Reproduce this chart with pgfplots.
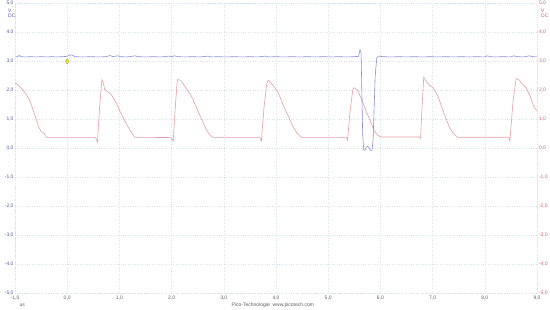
\documentclass[border=0pt]{standalone}
\usepackage{fontspec}
\setmainfont{Liberation Sans}
\usepackage{pgfplots}
\pgfplotsset{compat=1.18}
\definecolor{bluetr}{RGB}{140,140,215}
\definecolor{redtr}{RGB}{224,160,166}
\definecolor{lefttxt}{RGB}{85,85,155}
\definecolor{righttxt}{RGB}{205,95,105}
\definecolor{gridc}{RGB}{218,227,234}
\definecolor{ticktxt}{RGB}{95,95,95}
\definecolor{markfill}{RGB}{235,235,60}
\definecolor{markdraw}{RGB}{170,170,50}
\begin{document}
\begin{tikzpicture}
\pgfplotsset{
  common/.style={
    scale only axis, width=522pt, height=290pt,
    xmin=-1, xmax=9, ymin=-5, ymax=5,
    /pgf/number format/.cd, fixed, fixed zerofill, precision=1, use comma, assume math mode=true,
    /pgfplots/.cd,
    tick style={draw=none},
    ticklabel style={font=\fontsize{5}{6}\selectfont},
  }
}
\begin{axis}[common,
  axis line style={draw=gridc, dotted, line width=0.45pt},
  grid=major, major grid style={draw=gridc, dotted, line width=0.45pt},
  xtick={-1,0,...,9}, ytick={-5,-4,...,5},
  xticklabel style={text=ticktxt, yshift=0.5pt},
  yticklabel style={text=lefttxt, xshift=2pt},
  clip=false,
]
\addplot[redtr, line width=0.6pt] coordinates {
(-1.00,2.26) (-0.92,2.15) (-0.84,2.00) (-0.77,1.82) (-0.71,1.62) (-0.62,1.15) (-0.55,0.75) (-0.50,0.58) (-0.45,0.53) (-0.41,0.42) (-0.38,0.37)
(0.54,0.37) (0.58,0.22) (0.62,1.40) (0.665,2.37) (0.69,2.25) (0.72,2.03) (0.78,1.95) (0.85,1.84) (0.95,1.52) (1.05,1.13) (1.17,0.72) (1.24,0.52) (1.30,0.38)
(1.99,0.37) (2.03,0.24) (2.07,1.40) (2.11,2.37) (2.17,2.35) (2.25,2.15) (2.38,1.80) (2.50,1.30) (2.60,0.90) (2.67,0.62) (2.74,0.45) (2.80,0.37)
(3.69,0.37) (3.72,0.25) (3.77,1.40) (3.82,2.20) (3.85,2.35) (3.93,2.20) (4.04,1.92) (4.15,1.45) (4.25,1.05) (4.33,0.73) (4.41,0.50) (4.49,0.37)
(5.35,0.37) (5.37,0.28) (5.42,1.30) (5.47,2.00) (5.49,2.09) (5.53,2.06) (5.57,1.98) (5.65,1.65) (5.72,1.30) (5.79,1.02) (5.88,0.62) (5.94,0.46) (6.01,0.39)
(6.75,0.39) (6.77,0.35) (6.80,1.50) (6.83,2.45) (6.88,2.30) (6.94,2.18) (7.01,2.09) (7.10,1.80) (7.20,1.30) (7.32,0.73) (7.40,0.50) (7.48,0.38)
(8.46,0.38) (8.48,0.25) (8.54,1.60) (8.60,2.41) (8.66,2.35) (8.72,2.22) (8.79,2.09) (8.87,1.80) (8.94,1.43) (9.00,1.30)
};
\addplot[bluetr, line width=0.6pt] coordinates {
(-1.00,3.15) (-0.95,3.16) (-0.92,3.20) (-0.88,3.16) (-0.80,3.15) (-0.70,3.16) (-0.60,3.15) (-0.50,3.16) (-0.40,3.15) (-0.30,3.16) (-0.20,3.15) (-0.10,3.16)
(0.00,3.17) (0.05,3.22) (0.10,3.21) (0.15,3.16) (0.30,3.15) (0.45,3.16) (0.60,3.15) (0.75,3.16) (0.82,3.20) (0.87,3.16) (0.97,3.19) (1.02,3.16)
(1.15,3.15) (1.30,3.19) (1.36,3.16) (1.50,3.15) (1.65,3.16) (1.80,3.15) (1.95,3.18) (2.00,3.16) (2.05,3.19) (2.12,3.16) (2.25,3.15) (2.40,3.16)
(2.55,3.15) (2.70,3.18) (2.76,3.15) (2.90,3.16) (3.05,3.15) (3.20,3.16) (3.35,3.15) (3.50,3.16) (3.65,3.15) (3.80,3.18) (3.86,3.15) (4.00,3.16)
(4.15,3.15) (4.30,3.16) (4.45,3.15) (4.60,3.16) (4.75,3.15) (4.90,3.16) (5.05,3.15) (5.20,3.16) (5.35,3.15) (5.50,3.16) (5.58,3.17)
(5.61,3.40) (5.63,3.30) (5.66,0.50) (5.68,-0.05) (5.70,-0.07) (5.73,0.03) (5.755,0.07) (5.78,0.03) (5.81,-0.07) (5.84,-0.07) (5.86,0.30) (5.90,2.50) (5.93,3.10) (5.96,3.18)
(6.05,3.16) (6.20,3.15) (6.35,3.16) (6.50,3.15) (6.65,3.16) (6.80,3.15) (6.95,3.16) (7.10,3.15) (7.25,3.16) (7.40,3.15) (7.55,3.16)
(7.70,3.15) (7.85,3.16) (8.00,3.15) (8.05,3.19) (8.10,3.16) (8.20,3.15) (8.35,3.16) (8.50,3.15) (8.55,3.19) (8.62,3.16) (8.75,3.15) (8.85,3.19) (8.92,3.16) (9.00,3.15)
};
\addplot[only marks, mark=diamond*, mark size=2.6pt, mark options={fill=markfill, draw=markdraw, line width=0.4pt}] coordinates {(0,3.0)};
\node[font=\fontsize{5}{6}\selectfont, text=lefttxt, anchor=west, inner sep=0pt] at ([xshift=-7pt,yshift=-7pt]rel axis cs:0,1) {V};
\node[font=\fontsize{5}{6}\selectfont, text=lefttxt, anchor=west, inner sep=0pt] at ([xshift=-7pt,yshift=-12.5pt]rel axis cs:0,1) {DC};
\node[font=\fontsize{5}{6}\selectfont, text=righttxt, anchor=west, inner sep=0pt] at ([xshift=4pt,yshift=-7pt]rel axis cs:1,1) {V};
\node[font=\fontsize{5}{6}\selectfont, text=righttxt, anchor=west, inner sep=0pt] at ([xshift=4pt,yshift=-12.5pt]rel axis cs:1,1) {DC};
\node[font=\fontsize{5}{6}\selectfont, text=ticktxt, anchor=west] at ([xshift=1pt,yshift=-12pt]rel axis cs:0,0) {us};
\node[font=\fontsize{5}{6}\selectfont, text=ticktxt] at ([yshift=-11.5pt]axis cs:3.94,-5) {Pico-Technologie\ \ www.picotech.com};
\end{axis}
\begin{axis}[common,
  axis x line=none, axis y line*=right, axis line style={draw=none},
  ytick={-5,-4,...,5},
  yticklabel style={text=righttxt, xshift=-1.5pt},
]
\end{axis}
\pgfresetboundingbox
\path[use as bounding box] (-15pt,-15.7pt) rectangle (535pt,293.3pt);
\end{tikzpicture}
\end{document}
